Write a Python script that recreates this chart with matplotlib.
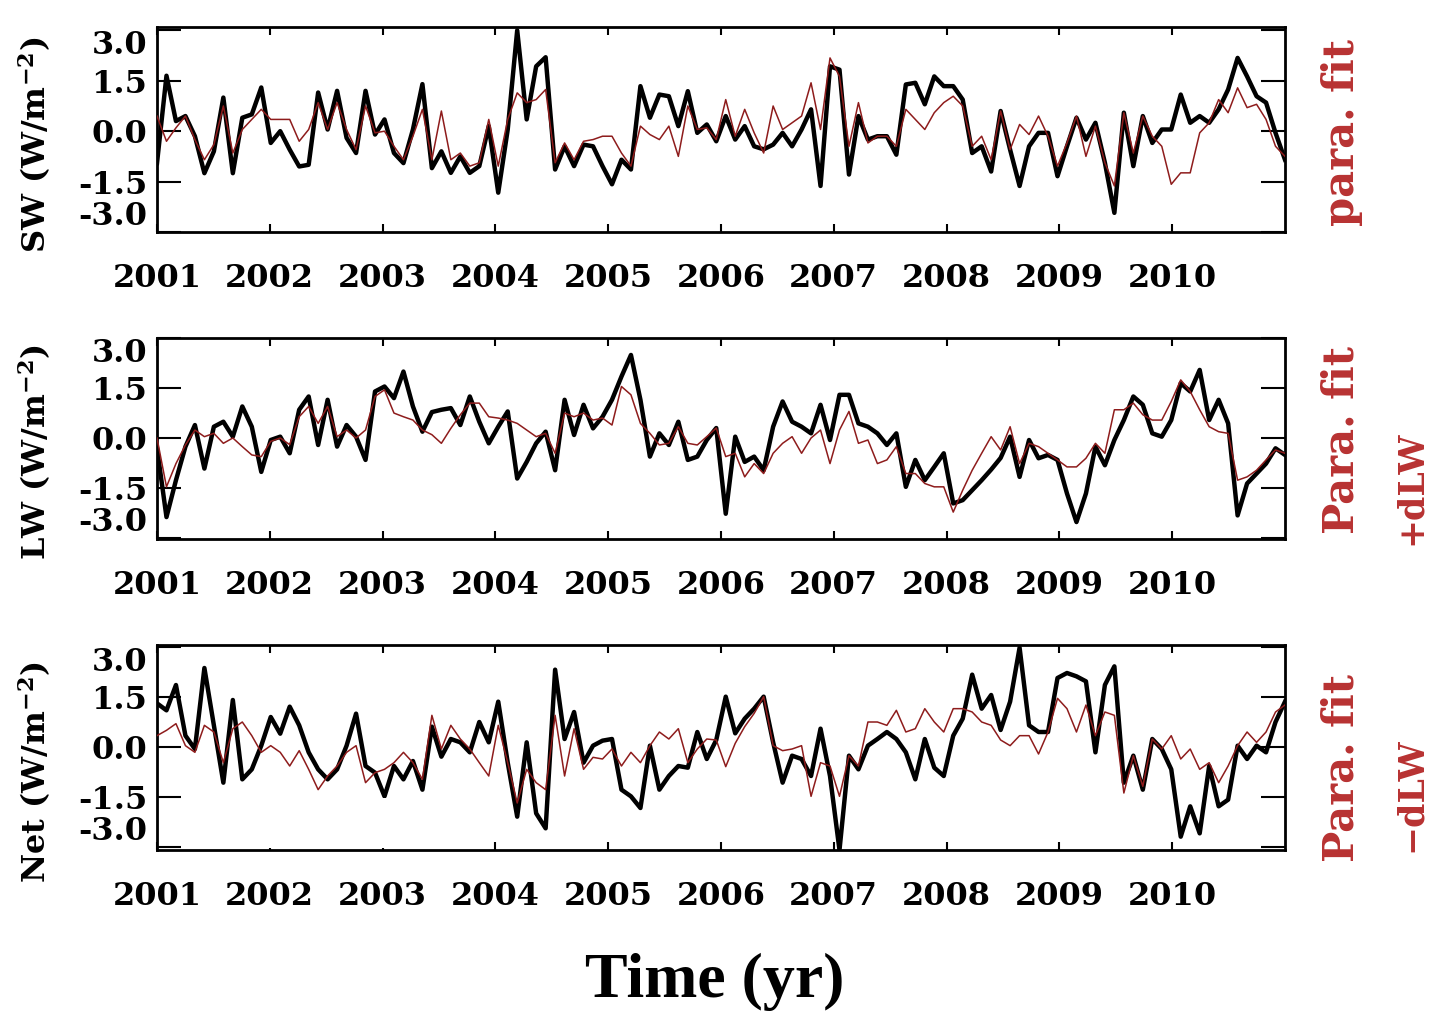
import numpy as np
import matplotlib
matplotlib.use('Agg')
import matplotlib.pyplot as plt
import matplotlib.patches as mpatches

# ── Data: monthly anomalies (W/m^2), Jan 2001 - Dec 2010 ──
years = list(range(2001, 2011))
n_months = 120
time = 2001 + np.arange(n_months) * 10.0 / (n_months - 1)

sw_obs = [-0.95, 1.65, 0.3, 0.45, -0.15, -1.25, -0.6, 1.0, -1.25, 0.4,
          0.5, 1.3, -0.35, 0.0, -0.55, -1.05, -1.0, 1.15, 0.05, 1.2,
          -0.2, -0.65, 1.2, -0.1, 0.35, -0.65, -0.95, 0.05, 1.4, -1.1,
          -0.6, -1.24, -0.75, -1.24, -1.04, 0.15, -1.83, 0.05, 3.0, 0.35,
          1.93, 2.2, -1.14, -0.45, -1.04, -0.4, -0.45, -1.04, -1.58, -0.85,
          -1.14, 1.34, 0.4, 1.09, 1.04, 0.15, 1.19, -0.05, 0.2, -0.3,
          0.45, -0.25, 0.15, -0.45, -0.54, -0.4, -0.05, -0.45, 0.05, 0.65,
          -1.63, 1.93, 1.83, -1.29, 0.45, -0.25, -0.15, -0.15, -0.7, 1.39,
          1.44, 0.8, 1.63, 1.34, 1.34, 0.94, -0.65, -0.45, -1.2, 0.6,
          -0.55, -1.63, -0.45, -0.05, -0.05, -1.34, -0.45, 0.4, -0.25, 0.25,
          -0.94, -2.43, 0.55, -1.04, 0.45, -0.35, 0.05, 0.05, 1.09, 0.25,
          0.45, 0.25, 0.65, 1.24, 2.18, 1.63, 1.04, 0.85, -0.05, -0.85]
sw_fit = [0.45, -0.3, 0.1, 0.45, -0.25, -0.85, -0.4, 0.75, -0.65, 0.05,
          0.35, 0.65, 0.35, 0.35, 0.35, -0.3, 0.05, 0.85, 0.05, 0.85,
          0.05, -0.55, 0.75, -0.05, 0.0, -0.45, -0.85, -0.15, 0.65, -0.85,
          0.6, -0.85, -0.65, -1.04, -0.94, 0.35, -1.04, 0.35, 1.14, 0.85,
          0.94, 1.24, -0.94, -0.35, -0.85, -0.3, -0.25, -0.15, -0.15, -0.65,
          -1.04, 0.15, -0.1, -0.25, 0.15, -0.75, 0.75, 0.05, 0.1, -0.25,
          0.94, -0.15, 0.65, -0.05, -0.65, 0.75, 0.05, 0.25, 0.45, 1.44,
          0.05, 2.18, 1.63, -0.45, 0.85, -0.35, -0.15, -0.15, -0.45, 0.65,
          0.35, 0.05, 0.55, 0.85, 1.04, 0.75, -0.45, -0.15, -0.85, 0.6,
          -0.55, 0.2, -0.1, 0.45, -0.15, -1.04, -0.35, 0.45, -0.75, 0.15,
          -0.94, -1.63, 0.55, -0.65, 0.45, -0.15, -0.45, -1.58, -1.24, -1.24,
          -0.05, 0.25, 0.94, 0.55, 1.29, 0.7, 0.8, 0.35, -0.45, -0.75]

lw_obs = [-0.3, -2.38, -1.27, -0.26, 0.39, -0.92, 0.34, 0.49, 0.04, 0.95,
          0.34, -1.02, -0.06, 0.04, -0.46, 0.85, 1.25, -0.21, 1.15, -0.26,
          0.39, 0.04, -0.66, 1.4, 1.55, 1.2, 2.0, 0.95, 0.19, 0.78,
          0.85, 0.9, 0.39, 1.25, 0.49, -0.16, 0.34, 0.8, -1.22, -0.72,
          -0.16, 0.19, -0.97, 1.15, 0.09, 1.0, 0.29, 0.64, 1.15, 1.85,
          2.5, 1.15, -0.56, 0.14, -0.21, 0.49, -0.66, -0.56, -0.06, 0.3,
          -2.28, 0.04, -0.72, -0.56, -0.97, 0.34, 1.1, 0.49, 0.34, 0.14,
          1.0, -0.06, 1.3, 1.3, 0.44, 0.34, 0.14, -0.21, 0.14, -1.47,
          -0.66, -1.27, -0.87, -0.46, -1.97, -1.87, -1.57, -1.27, -0.95, -0.6,
          0.04, -1.17, -0.06, -0.61, -0.51, -0.66, -1.67, -2.53, -1.67, -0.26,
          -0.82, -0.06, 0.54, 1.25, 1.0, 0.14, 0.04, 0.54, 1.65, 1.4,
          2.05, 0.54, 1.15, 0.44, -2.33, -1.37, -1.07, -0.77, -0.31, -0.51]
lw_fit = [0.0, -1.47, -0.77, -0.21, 0.24, 0.04, 0.14, -0.16, 0.0, -0.26,
          -0.51, -0.56, -0.1, 0.0, -0.2, 0.64, 0.95, 0.44, 0.95, 0.04,
          0.24, 0.0, 0.24, 1.25, 1.45, 0.75, 0.64, 0.54, 0.24, 0.1,
          -0.16, 0.29, 0.7, 1.05, 1.05, 0.64, 0.6, 0.54, 0.44, 0.24,
          0.04, 0.14, -0.46, 0.75, 0.64, 0.75, 0.54, 0.6, 0.39, 1.55,
          1.3, 0.44, 0.14, -0.21, -0.16, 0.34, -0.16, -0.21, 0.04, 0.3,
          -0.56, -0.46, -1.17, -0.77, -1.07, -0.46, -0.16, 0.04, -0.46, 0.0,
          0.24, -0.77, 0.24, 0.8, -0.16, -0.06, -0.77, -0.66, -0.26, -1.07,
          -1.07, -1.37, -1.47, -1.47, -2.23, -1.57, -0.97, -0.46, 0.04, -0.36,
          0.34, -0.77, -0.16, -0.26, -0.46, -0.66, -0.87, -0.87, -0.61, -0.16,
          -0.46, 0.85, 0.85, 1.05, 0.7, 0.54, 0.54, 1.1, 1.75, 1.4,
          0.85, 0.34, 0.19, 0.14, -1.27, -1.17, -0.97, -0.66, -0.36, -0.46]

net_obs = [1.3, 1.09, 1.85, 0.33, -0.07, 2.36, 0.64, -1.08, 1.4, -0.98,
           -0.68, 0.03, 0.89, 0.39, 1.2, 0.64, -0.17, -0.68, -0.98, -0.68,
           0.03, 0.99, -0.58, -0.78, -1.49, -0.58, -0.98, -0.43, -1.29, 0.6,
           -0.3, 0.23, 0.13, -0.17, 0.74, 0.13, 1.35, -0.48, -2.1, 0.13,
           -2.0, -2.45, 2.31, 0.23, 1.04, -0.48, 0.03, 0.18, 0.23, -1.29,
           -1.49, -1.84, 0.03, -1.29, -0.88, -0.58, -0.63, 0.44, -0.37, 0.2,
           1.5, 0.4, 0.84, 1.14, 1.5, 0.13, -1.08, -0.27, -0.37, -0.88,
           0.54, -0.88, -3.1, -0.27, -0.68, 0.03, 0.23, 0.44, 0.23, -0.17,
           -0.98, 0.23, -0.63, -0.88, 0.33, 0.84, 2.16, 1.14, 1.55, 0.5,
           1.35, 2.97, 0.64, 0.44, 0.44, 2.06, 2.21, 2.11, 1.96, -0.17,
           1.85, 2.41, -1.08, -0.27, -1.29, 0.23, -0.07, -0.68, -2.7, -1.79,
           -2.6, -0.58, -1.79, -1.59, 0.03, -0.37, 0.03, -0.17, 0.74, 1.35]
net_fit = [0.33, 0.49, 0.69, 0.03, -0.17, 0.64, 0.44, -0.48, 0.54, 0.74,
           0.33, -0.17, 0.03, -0.17, -0.58, -0.12, -0.68, -1.29, -0.88, -0.58,
           -0.17, 0.03, -1.08, -0.78, -0.68, -0.48, -0.17, -0.48, -0.98, 0.94,
           -0.07, 0.64, 0.23, -0.07, -0.48, -0.88, 0.64, -0.48, -1.69, -0.68,
           -1.08, -1.29, 0.94, -0.88, 0.54, -0.68, -0.32, -0.37, -0.07, -0.58,
           -0.17, -0.48, 0.03, 0.44, 0.23, 0.54, -0.48, -0.07, 0.23, 0.2,
           -0.6, 0.1, 0.6, 1.0, 1.5, 0.03, -0.12, -0.07, 0.03, -1.49,
           -0.48, -0.58, -1.49, -0.27, -0.58, 0.74, 0.74, 0.64, 1.09, 0.44,
           0.54, 1.14, 0.74, 0.44, 1.14, 1.14, 1.04, 0.74, 0.64, 0.2,
           0.03, 0.33, 0.33, -0.22, 0.44, 1.45, 1.14, 0.44, 1.25, 0.33,
           1.04, 0.94, -1.39, -0.27, -1.19, 0.23, -0.07, 0.33, -0.37, -0.07,
           -0.68, -0.48, -1.08, -0.58, 0.03, 0.44, 0.13, 0.44, 1.04, 1.25]

yticks = [-3.0, -1.5, 0.0, 1.5, 3.0]
ytick_labels = ['-3.0', '-1.5', '0.0', '1.5', '3.0']
panel_names = ['SW', 'LW', 'Net']
fit_labels = [['para. fit'], ['Para. fit', '+dLW'], ['Para. fit', '\u2212dLW']]

# ── Style ────────────────────────────────────────────────────────────────
W, H = 1431, 1013
RED_LINE = '#8E1C1C'
RED_TEXT = '#B83232'
plt.rcParams['font.family'] = 'DejaVu Serif'
plt.rcParams['font.weight'] = 'bold'
plt.rcParams['mathtext.fontset'] = 'custom'
plt.rcParams['mathtext.rm'] = 'DejaVu Serif:bold'
plt.rcParams['mathtext.default'] = 'rm'

def fx(px):
    return px / W

def fy(py):
    return 1 - py / H

# panel boxes in pixels: (top, bottom), ylim, label centres
panels = [
    dict(top=27, bot=232, ylim=(-2.98, 3.10), ylab_y=145, fit_y=[133]),
    dict(top=338, bot=539, ylim=(-3.04, 3.01), ylab_y=452, fit_y=[440, 488]),
    dict(top=645, bot=850, ylim=(-3.10, 3.05), ylab_y=772, fit_y=[768, 795]),
]
series = [(sw_obs, sw_fit), (lw_obs, lw_fit), (net_obs, net_fit)]
# white boxes pasted over the lower-left of each panel in the original
white_boxes = [(180, 183, 407, 220), (180, 490, 407, 530), (182, 798, 407, 848)]

fig = plt.figure(figsize=(W / 100, H / 100), dpi=100)
fig.patch.set_facecolor('white')

for p, (obs, fit), name, flabs, box in zip(panels, series, panel_names,
                                          fit_labels, white_boxes):
    left, right = 157, 1285
    ax = fig.add_axes([fx(left), fy(p['bot']), fx(right - left),
                       (p['bot'] - p['top']) / H])
    ax.plot(time, obs, color='black', lw=3.2, zorder=3)
    ax.plot(time, fit, color=RED_LINE, lw=1.1, zorder=4)

    ax.set_xlim(2001, 2011)
    ax.set_ylim(*p['ylim'])
    ax.set_xticks(years)
    ax.set_xticklabels([str(y) for y in years])
    ax.set_yticks(yticks)
    ax.set_yticklabels(ytick_labels)
    ax.tick_params(axis='x', direction='in', length=6, width=1.5,
                   top=True, bottom=True, pad=22, labelsize=23)
    ax.tick_params(axis='y', direction='in', length=17, width=1.5,
                   left=True, right=True, pad=7, labelsize=23)
    ylabs = ax.get_yticklabels()
    ylabs[0].set_va('bottom')
    ylabs[-1].set_va('top')
    for sp in ax.spines.values():
        sp.set_linewidth(2.0)

    fig.text(fx(35), fy(p['ylab_y']), name + r' (W/m$^{-2}$)', rotation=90,
             ha='center', va='center', fontsize=23, fontweight='bold')
    xs = [1342, 1411]
    sizes = [30, 25]
    for lab, x, y, fs in zip(flabs, xs, p['fit_y'], sizes):
        fig.text(fx(x), fy(y), lab, rotation=90, ha='center', va='center',
                 fontsize=fs, fontweight='bold', color=RED_TEXT)

    x0, y0, x1, y1 = box
    fig.patches.append(mpatches.Rectangle((fx(x0), fy(y1)), fx(x1 - x0),
                                          (y1 - y0) / H, transform=fig.transFigure,
                                          facecolor='white', edgecolor='none',
                                          zorder=10))

fig.text(fx(715), fy(982), 'Time (yr)', ha='center', va='center',
         fontsize=46, fontweight='bold', family='Liberation Serif')

fig.savefig('out.png', dpi=100, facecolor='white')
